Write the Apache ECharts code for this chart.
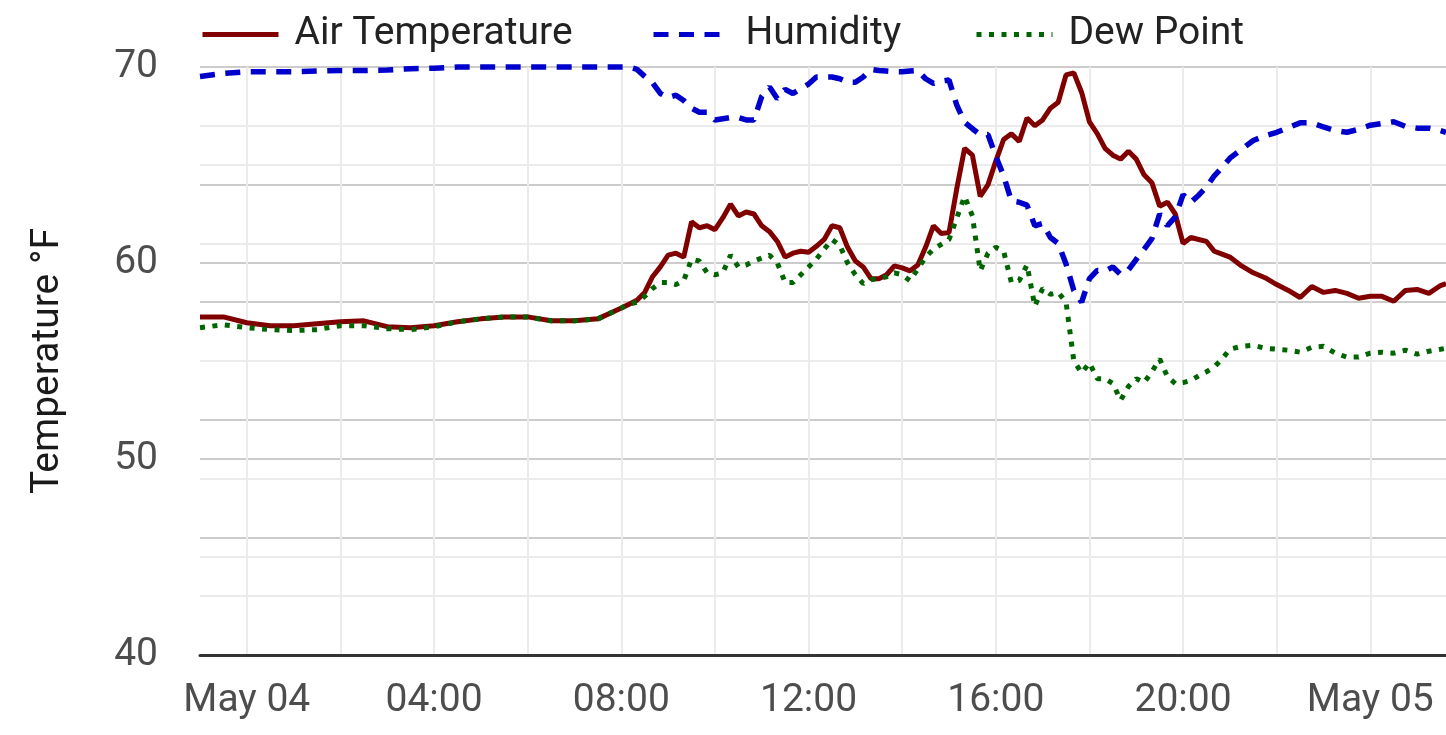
<!DOCTYPE html>
<html>
<head>
<meta charset="utf-8">
<script src="https://cdn.jsdelivr.net/npm/echarts@6/dist/echarts.min.js"></script>
<style>
html,body{margin:0;padding:0;background:#fff;}
#chart{width:1446px;height:735px;}
</style>
</head>
<body>
<div id="chart"></div>
<script>
// Sample times (month-day hour:minute)
const times = [
 '05-03 23:00','05-03 23:30','05-04 00:00','05-04 00:30','05-04 01:00','05-04 01:30','05-04 02:00','05-04 02:30',
 '05-04 03:00','05-04 03:30','05-04 04:00','05-04 04:30','05-04 05:00','05-04 05:30','05-04 06:00','05-04 06:30',
 '05-04 07:00','05-04 07:30','05-04 08:00',
 '05-04 08:10','05-04 08:20','05-04 08:30','05-04 08:40','05-04 08:50',
 '05-04 09:00','05-04 09:10','05-04 09:20','05-04 09:30','05-04 09:40','05-04 09:50',
 '05-04 10:00','05-04 10:10','05-04 10:20','05-04 10:30','05-04 10:40','05-04 10:50',
 '05-04 11:00','05-04 11:10','05-04 11:20','05-04 11:30','05-04 11:40','05-04 11:50',
 '05-04 12:00','05-04 12:10','05-04 12:20','05-04 12:30','05-04 12:40','05-04 12:50',
 '05-04 13:00','05-04 13:10','05-04 13:20','05-04 13:30','05-04 13:40','05-04 13:50',
 '05-04 14:00','05-04 14:10','05-04 14:20','05-04 14:30','05-04 14:40','05-04 14:50',
 '05-04 15:00','05-04 15:10','05-04 15:20','05-04 15:30','05-04 15:40','05-04 15:50',
 '05-04 16:00','05-04 16:10','05-04 16:20','05-04 16:30','05-04 16:40','05-04 16:50',
 '05-04 17:00','05-04 17:10','05-04 17:20','05-04 17:30','05-04 17:40','05-04 17:50',
 '05-04 18:00','05-04 18:10','05-04 18:20','05-04 18:30','05-04 18:40','05-04 18:50',
 '05-04 19:00','05-04 19:10','05-04 19:20','05-04 19:30','05-04 19:40','05-04 19:50',
 '05-04 20:00','05-04 20:10','05-04 20:20','05-04 20:30','05-04 20:40','05-04 20:50',
 '05-04 21:00',
 '05-04 21:15','05-04 21:30','05-04 21:45','05-04 22:00','05-04 22:15','05-04 22:30','05-04 22:45',
 '05-04 23:00','05-04 23:15','05-04 23:30','05-04 23:45','05-05 00:00','05-05 00:15','05-05 00:30',
 '05-05 00:45','05-05 01:00','05-05 01:15','05-05 01:30','05-05 01:37'
];

// Air temperature (°F)
const airTemp = [
 57.25,57.25,56.95,56.8,56.8,56.9,57.0,57.05,56.75,56.7,56.8,57.0,57.15,57.25,57.25,57.05,57.05,57.15,57.7,
 57.9,58.1,58.5,59.3,59.8,
 60.4,60.5,60.3,62.1,61.8,61.9,
 61.7,62.3,63.0,62.4,62.6,62.5,
 61.9,61.6,61.1,60.3,60.5,60.6,
 60.55,60.85,61.2,61.9,61.8,60.8,
 60.1,59.8,59.2,59.2,59.4,59.85,
 59.75,59.6,59.9,60.8,61.9,61.5,
 61.55,63.8,65.85,65.5,63.4,64.0,
 65.2,66.3,66.6,66.2,67.4,67.0,
 67.3,67.9,68.2,69.6,69.7,68.7,
 67.2,66.6,65.85,65.5,65.3,65.7,
 65.3,64.5,64.1,62.9,63.1,62.5,
 61.0,61.3,61.2,61.1,60.6,60.45,
 60.3,
 59.85,59.5,59.25,58.9,58.6,58.24,58.8,
 58.5,58.6,58.45,58.2,58.3,58.3,58.05,
 58.6,58.65,58.45,58.85,58.95
];

// Relative humidity (%)
const humidity = [
 98.4,98.9,99.2,99.2,99.2,99.3,99.4,99.4,99.5,99.7,99.8,100,100,100,100,100,100,100,100,
 100,99.6,98.4,97.3,95.5,
 94.8,95.2,94.3,93.0,92.3,92.3,
 91.0,91.2,91.4,91.4,91.0,91.0,
 95.0,96.6,94.6,96.2,95.5,96.3,
 97.1,98.3,98.3,98.3,98.0,97.4,
 97.4,98.3,99.6,99.4,99.3,99.2,
 99.2,99.3,99.4,98.0,97.2,97.6,
 97.8,93.5,90.6,89.5,88.5,88.5,
 84.8,81.5,77.2,77.0,76.5,73.0,
 73.4,71.0,70.0,66.5,62.0,60.0,
 64.0,65.4,65.3,66.0,64.7,65.5,
 67.3,69.0,70.8,75.0,73.0,74.5,
 78.3,77.0,78.2,79.6,81.5,82.9,
 84.5,
 86.0,87.5,88.3,88.9,89.7,90.5,90.5,
 89.8,89.2,88.9,89.4,90.1,90.4,90.7,
 89.9,89.6,89.6,89.2,88.9
];

// Dew point (°F)
const dewPoint = [
 56.7,56.85,56.7,56.6,56.55,56.6,56.8,56.8,56.65,56.6,56.75,57.0,57.15,57.25,57.25,57.05,57.05,57.15,57.7,
 57.9,58.0,58.3,58.7,59.0,
 59.0,58.9,59.1,60.2,60.1,59.5,
 59.4,59.5,60.4,59.8,59.9,60.1,
 60.25,60.4,60.0,59.0,59.0,59.4,
 59.8,60.2,60.7,61.2,60.9,60.0,
 59.4,58.95,59.15,59.2,59.3,59.5,
 59.4,59.1,59.7,60.3,60.7,60.95,
 61.2,62.3,63.4,62.4,59.6,60.5,
 60.8,60.6,59.0,59.1,59.9,57.8,
 58.7,58.4,58.5,58.0,55.0,54.4,
 54.9,54.1,54.1,53.85,53.0,53.7,
 54.1,53.9,54.45,55.1,54.2,53.85,
 53.9,54.0,54.25,54.45,54.7,55.1,
 55.6,
 55.75,55.8,55.65,55.6,55.55,55.45,55.7,
 55.75,55.4,55.2,55.2,55.4,55.45,55.4,
 55.55,55.35,55.5,55.6,55.65
];

const xTickHours = [0, 4, 8, 12, 16, 20, 24];
const xTickLabels = ['May 04', '04:00', '08:00', '12:00', '16:00', '20:00', 'May 05'];

function toHours(s) {
  const day = parseInt(s.slice(3, 5), 10);
  const hh = parseInt(s.slice(6, 8), 10);
  const mm = parseInt(s.slice(9, 11), 10);
  return (day - 4) * 24 + hh + mm / 60;
}
const hours = times.map(toHours);
const pair = arr => hours.map((h, i) => [h, arr[i]]);

const FONT = 'Roboto';
const FS = 39;
const legendBase = {
  top: 15, padding: 0, itemWidth: 76, itemHeight: 14,
  itemStyle: {opacity: 0},
  lineStyle: {width: 5},
  textStyle: {fontFamily: FONT, fontSize: FS, color: '#222222', padding: [0, 0, 0, 11]}
};
const chart = echarts.init(document.getElementById('chart'), null, {renderer: 'canvas'});
const option = {
  animation: false,
  backgroundColor: '#ffffff',
  textStyle: {fontFamily: FONT},
  legend: [
    Object.assign({left: 200, data: ['Air Temperature']}, legendBase),
    Object.assign({left: 651, data: ['Humidity']}, legendBase),
    Object.assign({left: 974, data: ['Dew Point']}, legendBase)
  ],
  grid: {left: 200, right: 0, top: 67, bottom: 80, containLabel: false},
  xAxis: {
    type: 'value',
    min: hours[0], max: hours[hours.length - 1],
    splitNumber: 13,
    axisLine: {show: true, lineStyle: {color: '#333333', width: 3}},
    axisTick: {show: false},
    axisLabel: {
      fontFamily: FONT, fontSize: FS, color: '#4d4d4d', margin: 27,
      showMinLabel: false, showMaxLabel: false,
      formatter: v => {
        const k = xTickHours.findIndex(t => Math.abs(t - v) < 1e-6);
        return k >= 0 ? xTickLabels[k] : '';
      }
    },
    splitLine: {show: true, showMinLine: false, showMaxLine: false, lineStyle: {color: '#ebebeb', width: 2}}
  },
  yAxis: [
    {
      type: 'value', min: 40, max: 70, interval: 10, position: 'left',
      name: 'Temperature °F', nameLocation: 'middle', nameGap: 132,
      nameTextStyle: {fontFamily: FONT, fontSize: FS, color: '#1a1a1a'},
      axisLine: {show: false}, axisTick: {show: false},
      axisLabel: {fontFamily: FONT, fontSize: FS, color: '#4d4d4d', margin: 42},
      splitLine: {show: true, lineStyle: {color: '#cccccc', width: 2}},
      minorTick: {show: false, splitNumber: 2},
      minorSplitLine: {show: true, lineStyle: {color: '#ebebeb', width: 2}}
    },
    {
      type: 'value', min: 0, max: 100, interval: 20, position: 'right',
      axisLine: {show: false}, axisTick: {show: false},
      axisLabel: {show: false},
      splitLine: {show: true, lineStyle: {color: '#cccccc', width: 2}},
      minorTick: {show: false, splitNumber: 2},
      minorSplitLine: {show: true, lineStyle: {color: '#ebebeb', width: 2}}
    }
  ],
  series: [
    {
      name: 'Air Temperature', type: 'line', yAxisIndex: 0, symbol: 'none', clip: false,
      data: pair(airTemp),
      lineStyle: {color: '#800000', width: 5, type: 'solid'},
      itemStyle: {color: '#800000'}, z: 3
    },
    {
      name: 'Humidity', type: 'line', yAxisIndex: 1, symbol: 'none', clip: false,
      data: pair(humidity),
      lineStyle: {color: '#0000cd', width: 5.5, type: [15, 10.5]},
      itemStyle: {color: '#0000cd'}, z: 4
    },
    {
      name: 'Dew Point', type: 'line', yAxisIndex: 0, symbol: 'none', clip: false,
      data: pair(dewPoint),
      lineStyle: {color: '#006400', width: 5, type: [5, 7.5]},
      itemStyle: {color: '#006400'}, z: 5
    }
  ]
};
chart.setOption(option);
</script>
</body>
</html>
